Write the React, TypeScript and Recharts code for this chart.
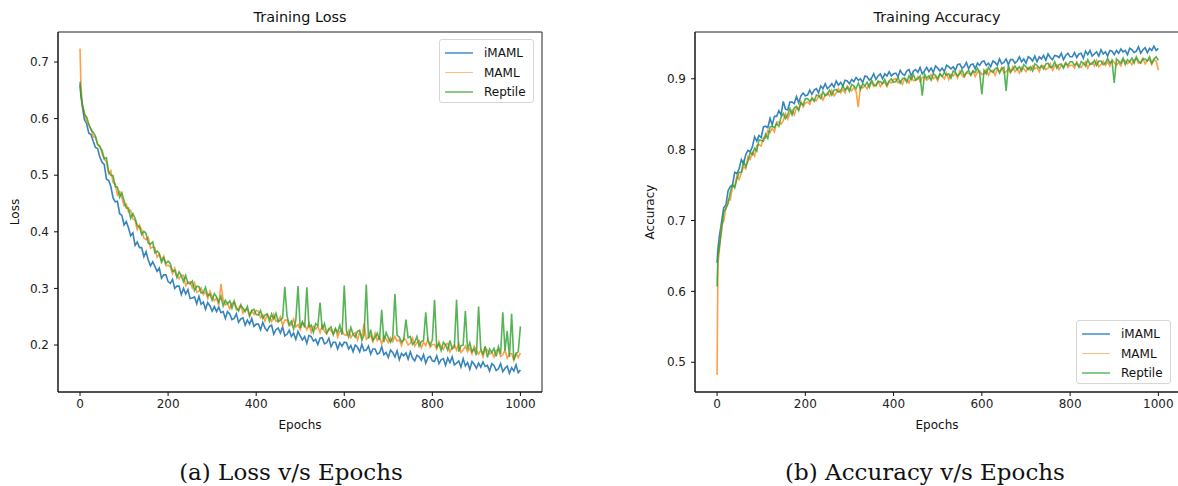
import { LineChart, Line, XAxis, YAxis, ReferenceArea } from "recharts";

const FONT = "'DejaVu Sans', sans-serif";

const seriesNames = ["iMAML", "MAML", "Reptile"];
const seriesColors = ["#1f77b4", "#ff7f0e", "#2ca02c"];
const seriesOpacity = [0.9, 0.75, 0.8];

const epochs = [
  0, 2,
  5, 10, 15, 20, 25, 30, 35, 40, 45, 50,
  55, 60, 65, 70, 75, 80, 85, 90, 95, 100,
  105, 110, 115, 120, 125, 130, 135, 140, 145, 150,
  155, 160, 165, 170, 175, 180, 185, 190, 195, 200,
  205, 210, 215, 220, 225, 230, 235, 240, 245, 250,
  255, 260, 265, 270, 275, 280, 285, 290, 295, 300,
  305, 310, 315, 320, 325, 330, 335, 340, 345, 350,
  355, 360, 365, 370, 375, 380, 385, 390, 395, 400,
  405, 410, 415, 420, 425, 430, 435, 440, 445, 450,
  455, 460, 465, 470, 475, 480, 485, 490, 495, 500,
  505, 510, 515, 520, 525, 530, 535, 540, 545, 550,
  555, 560, 565, 570, 575, 580, 585, 590, 595, 600,
  605, 610, 615, 620, 625, 630, 635, 640, 645, 650,
  655, 660, 665, 670, 675, 680, 685, 690, 695, 700,
  705, 710, 715, 720, 725, 730, 735, 740, 745, 750,
  755, 760, 765, 770, 775, 780, 785, 790, 795, 800,
  805, 810, 815, 820, 825, 830, 835, 840, 845, 850,
  855, 860, 865, 870, 875, 880, 885, 890, 895, 900,
  905, 910, 915, 920, 925, 930, 935, 940, 945, 950,
  955, 960, 965, 970, 975, 980, 985, 990, 995, 1000,
];

const lossIMAML = [
  0.660, 0.640,
  0.623, 0.598, 0.591, 0.574, 0.572, 0.560, 0.549, 0.547, 0.532, 0.523,
  0.519, 0.493, 0.491, 0.480, 0.460, 0.453, 0.454, 0.432, 0.429, 0.412,
  0.418, 0.407, 0.393, 0.398, 0.376, 0.382, 0.372, 0.372, 0.356, 0.365,
  0.350, 0.340, 0.347, 0.339, 0.330, 0.336, 0.318, 0.324, 0.324, 0.312,
  0.309, 0.316, 0.300, 0.304, 0.304, 0.289, 0.300, 0.290, 0.298, 0.282,
  0.283, 0.285, 0.273, 0.286, 0.272, 0.276, 0.263, 0.275, 0.269, 0.260,
  0.268, 0.259, 0.267, 0.257, 0.259, 0.247, 0.259, 0.255, 0.245, 0.247,
  0.255, 0.240, 0.246, 0.248, 0.235, 0.244, 0.237, 0.247, 0.233, 0.237,
  0.237, 0.227, 0.240, 0.230, 0.225, 0.233, 0.235, 0.219, 0.227, 0.230,
  0.221, 0.232, 0.216, 0.219, 0.226, 0.215, 0.221, 0.210, 0.224, 0.216,
  0.209, 0.215, 0.203, 0.217, 0.215, 0.207, 0.210, 0.201, 0.212, 0.213,
  0.202, 0.204, 0.212, 0.197, 0.205, 0.205, 0.193, 0.204, 0.198, 0.205,
  0.204, 0.193, 0.199, 0.188, 0.200, 0.196, 0.188, 0.201, 0.190, 0.191,
  0.198, 0.184, 0.193, 0.193, 0.184, 0.186, 0.197, 0.183, 0.187, 0.178,
  0.191, 0.187, 0.179, 0.190, 0.174, 0.185, 0.181, 0.186, 0.175, 0.188,
  0.177, 0.172, 0.182, 0.179, 0.173, 0.183, 0.168, 0.178, 0.180, 0.172,
  0.171, 0.181, 0.167, 0.174, 0.176, 0.164, 0.177, 0.169, 0.179, 0.165,
  0.168, 0.172, 0.161, 0.176, 0.163, 0.169, 0.157, 0.171, 0.166, 0.159,
  0.168, 0.161, 0.170, 0.162, 0.164, 0.154, 0.167, 0.164, 0.155, 0.158,
  0.167, 0.153, 0.159, 0.163, 0.150, 0.160, 0.154, 0.165, 0.151, 0.156,
];

const lossMAML = [
  0.724, 0.660,
  0.624, 0.611, 0.594, 0.588, 0.582, 0.568, 0.567, 0.555, 0.552, 0.538,
  0.529, 0.523, 0.503, 0.508, 0.487, 0.484, 0.465, 0.471, 0.460, 0.446,
  0.449, 0.435, 0.438, 0.423, 0.420, 0.404, 0.412, 0.403, 0.389, 0.386,
  0.390, 0.371, 0.373, 0.372, 0.355, 0.360, 0.350, 0.357, 0.340, 0.341,
  0.338, 0.326, 0.336, 0.324, 0.317, 0.323, 0.323, 0.305, 0.311, 0.312,
  0.301, 0.310, 0.293, 0.295, 0.301, 0.289, 0.294, 0.282, 0.295, 0.286,
  0.278, 0.283, 0.270, 0.308, 0.280, 0.271, 0.273, 0.264, 0.274, 0.275,
  0.262, 0.264, 0.272, 0.256, 0.263, 0.263, 0.250, 0.261, 0.254, 0.261,
  0.260, 0.248, 0.253, 0.242, 0.254, 0.249, 0.241, 0.254, 0.242, 0.243,
  0.250, 0.235, 0.244, 0.244, 0.234, 0.236, 0.246, 0.232, 0.236, 0.227,
  0.240, 0.235, 0.227, 0.238, 0.222, 0.233, 0.228, 0.233, 0.222, 0.235,
  0.224, 0.219, 0.229, 0.225, 0.220, 0.229, 0.214, 0.224, 0.226, 0.218,
  0.217, 0.226, 0.213, 0.219, 0.222, 0.209, 0.222, 0.214, 0.238, 0.210,
  0.213, 0.217, 0.206, 0.221, 0.208, 0.214, 0.202, 0.216, 0.211, 0.204,
  0.213, 0.206, 0.215, 0.207, 0.209, 0.199, 0.212, 0.209, 0.200, 0.203,
  0.212, 0.198, 0.204, 0.208, 0.195, 0.205, 0.199, 0.210, 0.196, 0.201,
  0.201, 0.193, 0.206, 0.197, 0.192, 0.201, 0.203, 0.188, 0.196, 0.200,
  0.191, 0.203, 0.187, 0.191, 0.198, 0.188, 0.194, 0.184, 0.198, 0.191,
  0.184, 0.191, 0.179, 0.194, 0.191, 0.184, 0.187, 0.179, 0.190, 0.192,
  0.180, 0.183, 0.191, 0.177, 0.184, 0.185, 0.173, 0.185, 0.178, 0.186,
];

const lossReptile = [
  0.665, 0.645,
  0.628, 0.607, 0.603, 0.590, 0.580, 0.576, 0.569, 0.554, 0.550, 0.544,
  0.529, 0.531, 0.506, 0.500, 0.499, 0.480, 0.479, 0.461, 0.469, 0.455,
  0.442, 0.442, 0.424, 0.432, 0.424, 0.411, 0.409, 0.395, 0.401, 0.397,
  0.380, 0.378, 0.382, 0.363, 0.366, 0.362, 0.346, 0.354, 0.344, 0.348,
  0.344, 0.330, 0.332, 0.319, 0.329, 0.322, 0.312, 0.323, 0.309, 0.308,
  0.313, 0.296, 0.304, 0.303, 0.292, 0.293, 0.302, 0.287, 0.290, 0.279,
  0.291, 0.285, 0.276, 0.286, 0.269, 0.279, 0.273, 0.278, 0.265, 0.278,
  0.266, 0.260, 0.270, 0.265, 0.259, 0.268, 0.252, 0.261, 0.263, 0.254,
  0.253, 0.261, 0.247, 0.253, 0.255, 0.242, 0.255, 0.246, 0.256, 0.241,
  0.244, 0.248, 0.303, 0.252, 0.236, 0.242, 0.228, 0.244, 0.304, 0.230,
  0.241, 0.231, 0.302, 0.232, 0.235, 0.222, 0.238, 0.234, 0.275, 0.227,
  0.238, 0.221, 0.228, 0.232, 0.218, 0.229, 0.222, 0.235, 0.218, 0.305,
  0.224, 0.214, 0.231, 0.219, 0.214, 0.224, 0.226, 0.208, 0.218, 0.307,
  0.212, 0.227, 0.208, 0.213, 0.221, 0.209, 0.262, 0.205, 0.222, 0.213,
  0.205, 0.213, 0.290, 0.217, 0.214, 0.205, 0.209, 0.245, 0.213, 0.215,
  0.201, 0.205, 0.215, 0.198, 0.206, 0.208, 0.258, 0.208, 0.200, 0.209,
  0.280, 0.196, 0.202, 0.190, 0.205, 0.200, 0.191, 0.208, 0.193, 0.196,
  0.280, 0.188, 0.199, 0.200, 0.260, 0.192, 0.204, 0.188, 0.193, 0.182,
  0.268, 0.193, 0.184, 0.198, 0.178, 0.193, 0.187, 0.194, 0.180, 0.197,
  0.184, 0.258, 0.190, 0.225, 0.179, 0.255, 0.173, 0.185, 0.188, 0.233,
];

const accIMAML = [
  0.640, 0.660,
  0.677, 0.697, 0.718, 0.722, 0.742, 0.748, 0.750, 0.768, 0.766, 0.773,
  0.786, 0.780, 0.793, 0.799, 0.797, 0.804, 0.818, 0.812, 0.820, 0.817,
  0.832, 0.833, 0.831, 0.844, 0.835, 0.847, 0.847, 0.855, 0.849, 0.868,
  0.857, 0.856, 0.867, 0.867, 0.865, 0.875, 0.866, 0.876, 0.880, 0.876,
  0.877, 0.884, 0.878, 0.884, 0.886, 0.880, 0.890, 0.886, 0.893, 0.886,
  0.889, 0.893, 0.888, 0.897, 0.891, 0.895, 0.890, 0.898, 0.897, 0.893,
  0.899, 0.896, 0.902, 0.898, 0.900, 0.895, 0.904, 0.903, 0.898, 0.901,
  0.907, 0.899, 0.904, 0.907, 0.900, 0.907, 0.904, 0.910, 0.904, 0.907,
  0.908, 0.903, 0.912, 0.907, 0.905, 0.911, 0.913, 0.904, 0.911, 0.913,
  0.909, 0.916, 0.907, 0.911, 0.916, 0.910, 0.915, 0.909, 0.918, 0.915,
  0.911, 0.915, 0.910, 0.919, 0.917, 0.914, 0.917, 0.912, 0.920, 0.921,
  0.915, 0.917, 0.923, 0.914, 0.920, 0.921, 0.914, 0.922, 0.919, 0.924,
  0.925, 0.919, 0.922, 0.917, 0.925, 0.923, 0.919, 0.928, 0.921, 0.923,
  0.928, 0.920, 0.927, 0.927, 0.922, 0.925, 0.931, 0.924, 0.928, 0.922,
  0.931, 0.929, 0.925, 0.932, 0.924, 0.931, 0.928, 0.933, 0.926, 0.935,
  0.930, 0.927, 0.933, 0.932, 0.930, 0.936, 0.927, 0.933, 0.936, 0.931,
  0.931, 0.937, 0.930, 0.935, 0.936, 0.929, 0.939, 0.934, 0.940, 0.932,
  0.935, 0.938, 0.932, 0.941, 0.935, 0.938, 0.932, 0.940, 0.939, 0.934,
  0.940, 0.936, 0.942, 0.938, 0.940, 0.934, 0.943, 0.941, 0.937, 0.939,
  0.945, 0.936, 0.941, 0.944, 0.937, 0.943, 0.940, 0.946, 0.940, 0.943,
];

const accMAML = [
  0.482, 0.640,
  0.656, 0.694, 0.699, 0.717, 0.729, 0.729, 0.748, 0.748, 0.763, 0.758,
  0.767, 0.776, 0.773, 0.790, 0.786, 0.796, 0.791, 0.806, 0.807, 0.805,
  0.817, 0.816, 0.827, 0.824, 0.830, 0.825, 0.839, 0.839, 0.836, 0.841,
  0.851, 0.843, 0.851, 0.856, 0.849, 0.859, 0.857, 0.868, 0.860, 0.866,
  0.867, 0.864, 0.874, 0.870, 0.869, 0.875, 0.878, 0.870, 0.877, 0.880,
  0.876, 0.884, 0.876, 0.880, 0.886, 0.880, 0.885, 0.880, 0.890, 0.886,
  0.883, 0.888, 0.882, 0.860, 0.890, 0.887, 0.890, 0.886, 0.893, 0.895,
  0.889, 0.891, 0.897, 0.889, 0.894, 0.895, 0.889, 0.896, 0.894, 0.899,
  0.900, 0.894, 0.897, 0.892, 0.900, 0.899, 0.894, 0.903, 0.897, 0.898,
  0.903, 0.896, 0.902, 0.902, 0.898, 0.900, 0.906, 0.900, 0.903, 0.897,
  0.907, 0.904, 0.900, 0.908, 0.899, 0.906, 0.904, 0.908, 0.901, 0.911,
  0.905, 0.902, 0.908, 0.908, 0.905, 0.911, 0.903, 0.909, 0.911, 0.906,
  0.907, 0.913, 0.905, 0.911, 0.912, 0.905, 0.914, 0.910, 0.916, 0.908,
  0.910, 0.914, 0.908, 0.917, 0.910, 0.914, 0.908, 0.916, 0.914, 0.910,
  0.916, 0.912, 0.918, 0.914, 0.916, 0.910, 0.919, 0.918, 0.913, 0.915,
  0.921, 0.912, 0.918, 0.920, 0.913, 0.919, 0.917, 0.923, 0.916, 0.919,
  0.919, 0.915, 0.924, 0.918, 0.916, 0.921, 0.924, 0.915, 0.921, 0.923,
  0.918, 0.926, 0.917, 0.920, 0.925, 0.919, 0.924, 0.918, 0.927, 0.923,
  0.919, 0.923, 0.918, 0.927, 0.925, 0.921, 0.924, 0.920, 0.927, 0.928,
  0.922, 0.923, 0.929, 0.921, 0.926, 0.927, 0.920, 0.927, 0.925, 0.912,
];

const accReptile = [
  0.607, 0.650,
  0.662, 0.685, 0.712, 0.717, 0.724, 0.740, 0.751, 0.746, 0.759, 0.768,
  0.768, 0.783, 0.776, 0.784, 0.796, 0.793, 0.802, 0.798, 0.814, 0.813,
  0.812, 0.822, 0.816, 0.832, 0.833, 0.831, 0.837, 0.833, 0.846, 0.851,
  0.844, 0.849, 0.858, 0.849, 0.859, 0.861, 0.855, 0.866, 0.863, 0.872,
  0.872, 0.868, 0.872, 0.868, 0.877, 0.876, 0.872, 0.882, 0.876, 0.878,
  0.884, 0.877, 0.884, 0.885, 0.881, 0.883, 0.890, 0.884, 0.888, 0.882,
  0.892, 0.890, 0.886, 0.894, 0.885, 0.893, 0.890, 0.895, 0.888, 0.898,
  0.892, 0.890, 0.896, 0.896, 0.893, 0.899, 0.891, 0.897, 0.900, 0.895,
  0.896, 0.902, 0.894, 0.900, 0.901, 0.895, 0.904, 0.899, 0.906, 0.898,
  0.900, 0.904, 0.876, 0.907, 0.901, 0.904, 0.898, 0.907, 0.905, 0.900,
  0.907, 0.903, 0.909, 0.905, 0.907, 0.901, 0.911, 0.909, 0.904, 0.907,
  0.913, 0.904, 0.909, 0.912, 0.905, 0.911, 0.909, 0.915, 0.908, 0.878,
  0.912, 0.907, 0.916, 0.911, 0.909, 0.914, 0.916, 0.908, 0.914, 0.916,
  0.883, 0.919, 0.910, 0.913, 0.918, 0.913, 0.917, 0.911, 0.920, 0.917,
  0.913, 0.917, 0.911, 0.921, 0.919, 0.915, 0.918, 0.914, 0.921, 0.922,
  0.916, 0.917, 0.924, 0.915, 0.920, 0.921, 0.915, 0.922, 0.919, 0.924,
  0.924, 0.919, 0.922, 0.916, 0.924, 0.922, 0.918, 0.927, 0.920, 0.921,
  0.926, 0.919, 0.925, 0.925, 0.920, 0.922, 0.929, 0.922, 0.925, 0.894,
  0.928, 0.925, 0.922, 0.929, 0.920, 0.927, 0.924, 0.929, 0.922, 0.931,
  0.925, 0.922, 0.928, 0.928, 0.925, 0.931, 0.922, 0.928, 0.931, 0.926,
];

const xTicks = [0, 200, 400, 600, 800, 1000];
const xDomain = [-50, 1049];
const lossTicks = [0.2, 0.3, 0.4, 0.5, 0.6, 0.7];
const lossDomain = [0.117, 0.753];
const accTicks = [0.5, 0.6, 0.7, 0.8, 0.9];
const accDomain = [0.458, 0.966];

const lossData = epochs.map((epoch, i) => ({
  epoch,
  iMAML: lossIMAML[i],
  MAML: lossMAML[i],
  Reptile: lossReptile[i],
}));

const accData = epochs.map((epoch, i) => ({
  epoch,
  iMAML: accIMAML[i],
  MAML: accMAML[i],
  Reptile: accReptile[i],
}));

const tickStyle = { fill: "#222", fontSize: 12, fontFamily: FONT };

function Text({ x, y, size, children, rotate, family }: any) {
  return (
    <div
      style={{
        position: "absolute",
        left: x,
        top: y,
        transform: `translate(-50%, -50%)${rotate ? " rotate(-90deg)" : ""}`,
        fontSize: size,
        lineHeight: 1,
        fontFamily: family || FONT,
        color: "#111",
        whiteSpace: "nowrap",
      }}
    >
      {children}
    </div>
  );
}

function LegendBox({ x, y }: { x: number; y: number }) {
  return (
    <div
      style={{
        position: "absolute",
        left: x,
        top: y,
        width: 95,
        height: 64,
        boxSizing: "border-box",
        border: "1px solid #d6d6d6",
        borderRadius: 3,
        background: "rgba(255,255,255,0.85)",
        fontFamily: FONT,
        fontSize: 12,
        color: "#111",
      }}
    >
      {seriesNames.map((name, i) => (
        <div
          key={name}
          style={{ position: "absolute", left: 5, top: 5 + i * 19.5, height: 16, display: "flex", alignItems: "center" }}
        >
          <div style={{ width: 28, height: 1.3, background: seriesColors[i], opacity: seriesOpacity[i] * 0.7 }} />
          <span style={{ marginLeft: 11 }}>{name}</span>
        </div>
      ))}
    </div>
  );
}

function Panel({ data, domain, ticks, width, yAxisWidth, marginRight }: any) {
  return (
    <LineChart
      width={width}
      height={440}
      data={data}
      margin={{ top: 32, right: marginRight, bottom: 0, left: 0 }}
    >
      <XAxis
        dataKey="epoch"
        type="number"
        domain={xDomain}
        ticks={xTicks}
        allowDataOverflow
        height={48}
        tickSize={4}
        tickMargin={3}
        tick={tickStyle}
        axisLine={{ stroke: "#111", strokeWidth: 1 }}
        tickLine={{ stroke: "#111" }}
      />
      <YAxis
        type="number"
        domain={domain}
        ticks={ticks}
        allowDataOverflow
        width={yAxisWidth}
        tickSize={4}
        tickMargin={5}
        tick={tickStyle}
        tickFormatter={(v: number) => v.toFixed(1)}
        axisLine={{ stroke: "#111", strokeWidth: 1 }}
        tickLine={{ stroke: "#111" }}
      />
      <ReferenceArea
        x1={xDomain[0]}
        x2={xDomain[1]}
        y1={domain[0]}
        y2={domain[1]}
        fill="none"
        fillOpacity={0}
        stroke="#222"
        strokeWidth={1}
      />
      {seriesNames.map((name, i) => (
        <Line
          key={name}
          dataKey={name}
          stroke={seriesColors[i]}
          strokeOpacity={seriesOpacity[i]}
          strokeWidth={1.6}
          strokeLinejoin="miter"
          dot={false}
          type="linear"
          isAnimationActive={false}
        />
      ))}
    </LineChart>
  );
}

export default function App() {
  return (
    <div
      style={{
        position: "absolute",
        left: 0,
        top: 0,
        width: 1178,
        height: 486,
        overflow: "hidden",
        background: "#fff",
      }}
    >
      <div style={{ position: "absolute", left: 0, top: 0 }}>
        <Panel data={lossData} domain={lossDomain} ticks={lossTicks} width={560} yAxisWidth={58} marginRight={18} />
      </div>
      <div style={{ position: "absolute", left: 600, top: 0 }}>
        <Panel data={accData} domain={accDomain} ticks={accTicks} width={600} yAxisWidth={95} marginRight={20} />
      </div>

      <Text x={300} y={17} size={14.4}>Training Loss</Text>
      <Text x={300} y={425} size={12}>Epochs</Text>
      <Text x={15} y={212} size={12} rotate>Loss</Text>
      <LegendBox x={439} y={39} />

      <Text x={937} y={17} size={14.4}>Training Accuracy</Text>
      <Text x={937} y={425} size={12}>Epochs</Text>
      <Text x={650} y={212} size={12} rotate>Accuracy</Text>
      <LegendBox x={1076} y={320} />

      <Text x={291} y={472} size={23} family="'DejaVu Serif', serif">(a) Loss v/s Epochs</Text>
      <Text x={925} y={472} size={23} family="'DejaVu Serif', serif">(b) Accuracy v/s Epochs</Text>
    </div>
  );
}
